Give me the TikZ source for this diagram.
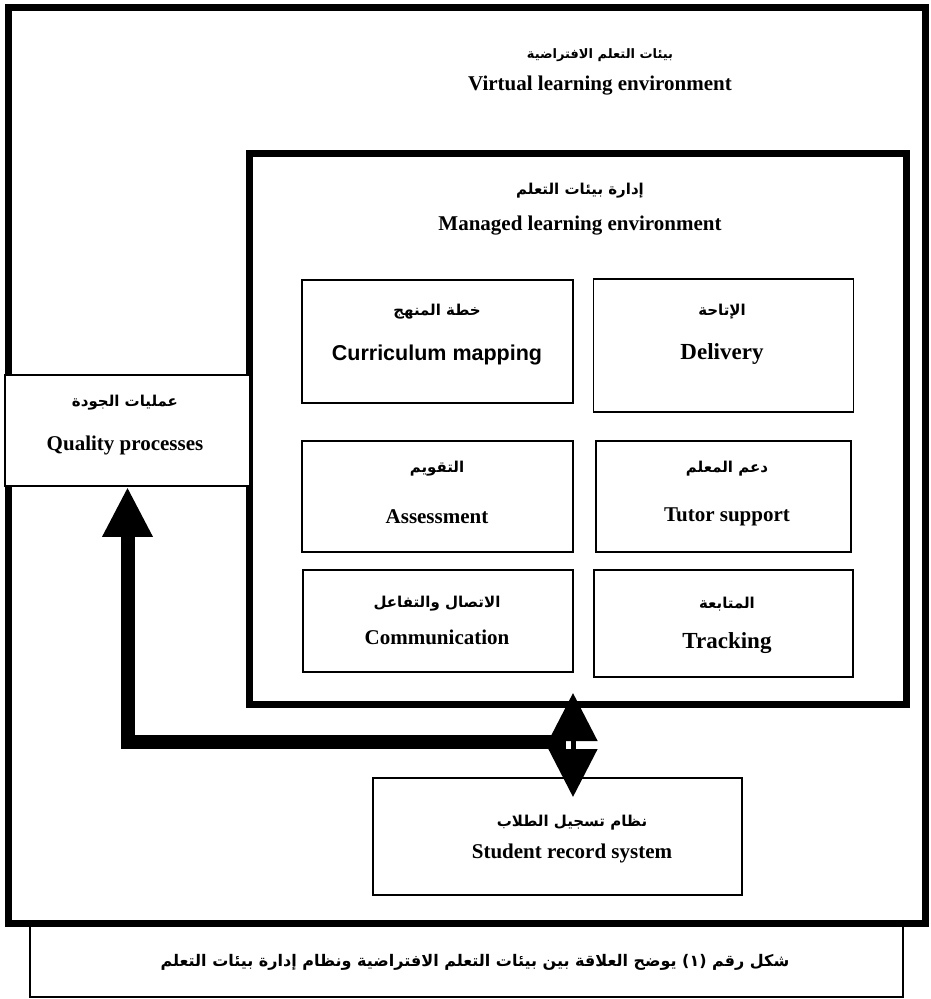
\documentclass[tikz,border=0pt]{standalone}
\usepackage{fontspec}
\setmainfont{Liberation Serif}
\newfontfamily\arabicfont[Script=Arabic]{DejaVu Sans}
\newfontfamily\cmfont{Liberation Sans}
\TeXXeTstate=1
\usetikzlibrary{arrows.meta}
\tikzset{
  box/.style={draw, line width=1.8pt, fill=white, inner sep=0pt},
  thickbox/.style={draw, line width=7pt, inner sep=0pt},
  en/.style={font=\bfseries\fontsize{21}{21}\selectfont, inner sep=0pt},
  enbig/.style={font=\bfseries\fontsize{23}{23}\selectfont, inner sep=0pt},
  ar/.style={font=\arabicfont\bfseries\fontsize{15}{15}\selectfont, inner sep=0pt},
  arsmall/.style={font=\arabicfont\bfseries\fontsize{13}{13}\selectfont, inner sep=0pt},
  bigarrow/.style={line width=14pt, -{Triangle[width=47pt,length=50pt]}},
  dblarrow/.style={line width=5pt, {Triangle[width=48pt,length=48pt]}-{Triangle[width=48pt,length=48pt]}},
}
\begin{document}
\begin{tikzpicture}[x=1pt,y=-1pt]
\useasboundingbox (0,0) rectangle (931,999);
\fill[white] (0,0) rectangle (931,999);
% outer box: virtual learning environment
\node[thickbox, minimum width=917pt, minimum height=916pt] (vle) at (466.5,465.5) {};
\node[arsmall] (vlea) at (600,55) {\beginR بيئات التعلم الافتراضية\endR};
\node[en] (vlee) at (600,86) {Virtual learning environment};
% managed learning environment
\node[thickbox, minimum width=657pt, minimum height=551pt] (mle) at (577.5,428.5) {};
\node[ar] (mlea) at (580,191) {\beginR إدارة بيئات التعلم\endR};
\node[en] (mlee) at (580,226) {Managed learning environment};
% inner boxes
\node[box, minimum width=271pt, minimum height=123pt] (cm) at (437.5,341.5) {};
\node[ar] (cma) at (437,312) {\beginR خطة المنهج\endR};
\node[font=\cmfont\bfseries\fontsize{21.5}{21.5}\selectfont, inner sep=0pt] (cme) at (437,355) {Curriculum mapping};

\node[box, minimum width=260pt, minimum height=133pt] (dl) at (723.5,345.5) {};
\node[ar] (dla) at (722,312) {\beginR الإتاحة\endR};
\node[enbig] (dle) at (722,354) {Delivery};

\node[box, minimum width=271pt, minimum height=111pt] (as) at (437.5,496.5) {};
\node[ar] (asa) at (437,469) {\beginR التقويم\endR};
\node[en] (ase) at (437,517) {Assessment};

\node[box, minimum width=255pt, minimum height=111pt] (ts) at (723.5,496.5) {};
\node[ar] (tsa) at (727,469) {\beginR دعم المعلم\endR};
\node[en] (tse) at (727,517) {Tutor support};

\node[box, minimum width=270pt, minimum height=102pt] (co) at (438,621) {};
\node[ar] (coa) at (437,604) {\beginR الاتصال والتفاعل\endR};
\node[en] (coe) at (437,637) {Communication};

\node[box, minimum width=259pt, minimum height=107pt] (tr) at (723.5,623.5) {};
\node[ar] (tra) at (727,604) {\beginR المتابعة\endR};
\node[enbig] (tre) at (727,643) {Tracking};

% quality processes
\node[box, minimum width=245pt, minimum height=111pt] (qp) at (127.5,430.5) {};
\node[ar] (qpa) at (125,403) {\beginR عمليات الجودة\endR};
\node[en] (qpe) at (125,445) {Quality processes};

% student record system
\node[box, minimum width=369pt, minimum height=117pt] (srs) at (557.5,836.5) {};
\node[ar] (srsa) at (572,823) {\beginR نظام تسجيل الطلاب\endR};
\node[en] (srse) at (572,853) {Student record system};

% arrows
\coordinate (hj) at (566,742);
\draw[bigarrow] (hj) -| (qp.south);
\coordinate (da1) at (573,693);
\coordinate (da2) at (573,797);
\draw[dblarrow] (da1) -- (da2);

% caption
\node[draw, line width=1.5pt, minimum width=873pt, minimum height=71pt, inner sep=0pt] (cap) at (466.5,961.5) {};
\node[font=\arabicfont\bfseries\fontsize{16}{16}\selectfont, inner sep=0pt] (capt) at (475,962) {\beginR شكل رقم (١) يوضح العلاقة بين بيئات التعلم الافتراضية ونظام إدارة بيئات التعلم\endR};
\end{tikzpicture}
\end{document}
